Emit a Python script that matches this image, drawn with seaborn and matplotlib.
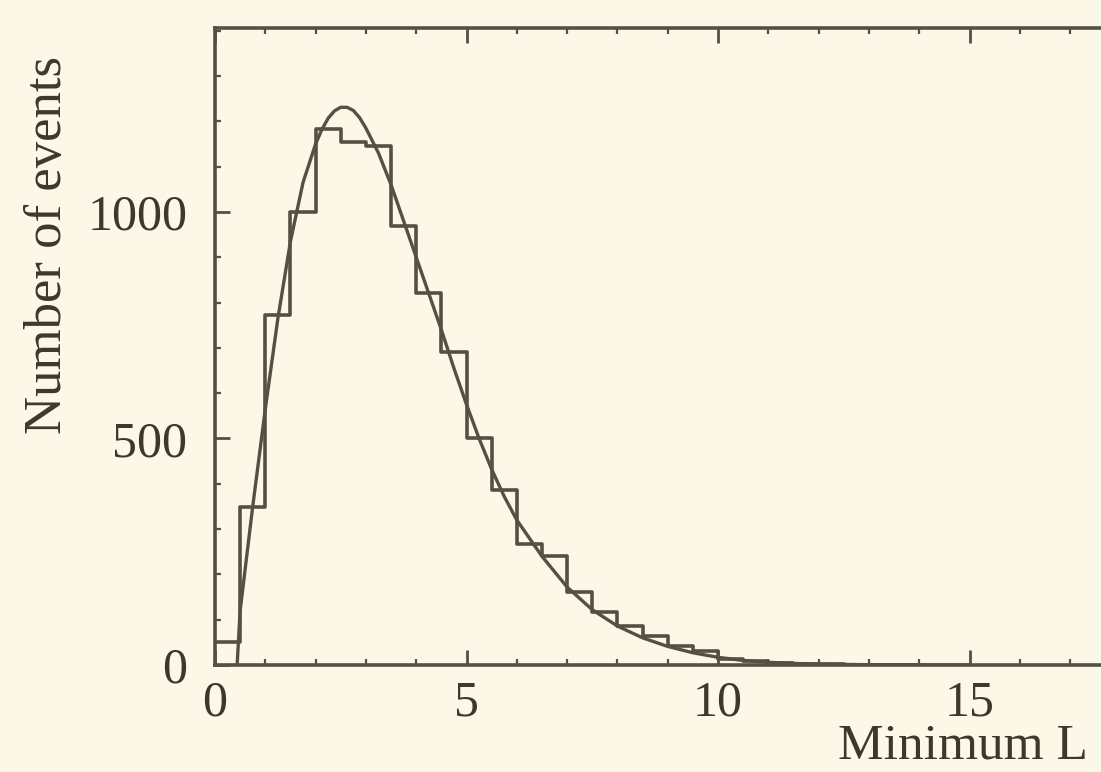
import numpy as np
import matplotlib
matplotlib.use("Agg")
import matplotlib.pyplot as plt
import seaborn as sns
from matplotlib.ticker import MultipleLocator

# ---- data ----
bin_width = 0.5
bin_lows = [0.0, 0.5, 1.0, 1.5, 2.0, 2.5, 3.0, 3.5, 4.0, 4.5, 5.0, 5.5, 6.0, 6.5,
            7.0, 7.5, 8.0, 8.5, 9.0, 9.5, 10.0, 10.5, 11.0, 11.5, 12.0, 12.5, 13.0, 13.5]
counts = [50, 349, 772, 1000, 1182, 1154, 1146, 970, 822, 690, 502, 387, 267, 241,
          161, 117, 85, 64, 43, 30, 14, 8, 5, 3, 2, 1, 1, 0]

curve_x = [0.44, 0.5, 0.75, 1.0, 1.25, 1.5, 1.75, 2.0, 2.125, 2.25, 2.375, 2.5, 2.625,
           2.75, 2.875, 3.0, 3.25, 3.5, 3.75, 4.0, 4.25, 4.5, 4.75, 5.0, 5.25, 5.5,
           5.75, 6.0, 6.5, 7.0, 7.5, 8.0, 8.5, 9.0, 9.5, 10.0, 10.5, 11.0, 11.5,
           12.0, 13.0, 14.0, 15.0]
curve_y = [0, 120, 350, 565, 765, 935, 1065, 1150, 1182, 1207, 1223, 1231, 1231,
           1224, 1208, 1185, 1130, 1060, 980, 900, 820, 740, 655, 575, 500, 432,
           372, 320, 240, 172, 122, 86, 60, 41, 27, 17, 10, 6, 3.5,
           2, 0.6, 0.2, 0]

x_major = [0, 5, 10, 15]
y_major = [0, 500, 1000]
y_label = "Number of events"
x_label = "Minimum L"

# ---- style ----
paper = "#FBF8E7"
ink = "#574F42"
text_ink = "#3F372C"

sns.set_theme(style="ticks")
plt.rcParams["font.family"] = ["Liberation Serif", "DejaVu Serif"]

W, H = 1101, 772
fig = plt.figure(figsize=(W / 100, H / 100), dpi=100, facecolor=paper)
ax = fig.add_axes([215 / W, 107 / H, (W - 215) / W, 637 / H])
ax.set_facecolor(paper)

edges = list(bin_lows) + [bin_lows[-1] + bin_width]
centers = [b + bin_width / 2 for b in bin_lows]
sns.histplot(x=centers, weights=counts, bins=edges, element="step", fill=False,
             color=ink, linewidth=2.6, ax=ax)
sns.lineplot(x=curve_x, y=curve_y, color=ink, linewidth=2.4, ax=ax)

ax.set_xlim(0, (W - 215) / 50.3)
ax.set_ylim(0, 1406)
ax.set_xticks(x_major)
ax.set_xticklabels([str(v) for v in x_major])
ax.set_yticks(y_major)
ax.set_yticklabels([str(v) for v in y_major])
ax.xaxis.set_minor_locator(MultipleLocator(1))
ax.yaxis.set_minor_locator(MultipleLocator(100))
ax.set_xlabel("")
ax.set_ylabel("")

for side in ["left", "bottom", "top"]:
    ax.spines[side].set_visible(True)
    ax.spines[side].set_color(ink)
    ax.spines[side].set_linewidth(2.6)
ax.spines["right"].set_visible(False)

ax.tick_params(which="both", direction="in", top=True, right=False, color=ink,
               labelcolor=text_ink, labelsize=36)
ax.tick_params(which="major", length=11, width=2.0)
ax.tick_params(which="minor", length=4, width=1.6)
ax.tick_params(axis="y", which="major", pad=20)
ax.tick_params(axis="x", which="major", pad=11)

fig.text(48 / W, 1 - 245 / H, y_label, rotation=90, ha="center", va="center",
         fontsize=38, color=text_ink)
fig.text(838 / W, 1 - 746 / H, x_label, ha="left", va="center",
         fontsize=37, color=text_ink)

fig.savefig("out.png", dpi=100, facecolor=paper)
